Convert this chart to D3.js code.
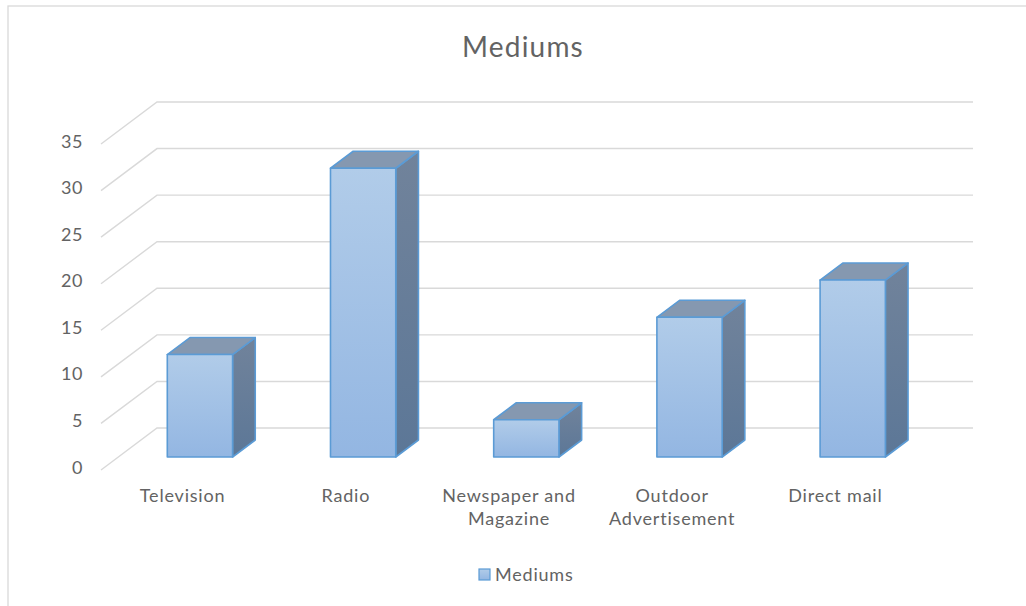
<!DOCTYPE html>
<html><head><meta charset="utf-8">
<script src="https://cdn.jsdelivr.net/npm/d3@7"></script>
<style>body{margin:0;background:#fff;} text{font-family:Lato,"Open Sans",sans-serif;}</style>
</head><body>
<svg id="c" width="1026" height="606"></svg>
<script>
const title = "Mediums";
const seriesName = "Mediums";
const categories = ["Television","Radio","Newspaper and Magazine","Outdoor Advertisement","Direct mail"];
const labelLines = [["Television"],["Radio"],["Newspaper and","Magazine"],["Outdoor","Advertisement"],["Direct mail"]];
const values = [11, 31, 4, 15, 19];
const yTicks = [0,5,10,15,20,25,30,35];

const txtColor = "#636363";
const svg = d3.select("#c");
// frame
svg.append("rect").attr("x",8).attr("y",6).attr("width",1040).attr("height",620)
  .attr("fill","#fff").attr("stroke","#d9d9d9").attr("stroke-width",1.3);

const front = {x0:101, x1:917};
const depth = {dx:56, dy:-42};
const y = d3.scaleLinear().domain([0,35]).range([470,144]);
const x = d3.scaleBand().domain(categories).range([0, front.x1-front.x0]).paddingInner(0.6).paddingOuter(0.3);
const xc = d3.scaleBand().domain(categories).range([front.x0, front.x1]);

// gridlines
const g = svg.append("g");
yTicks.forEach(t=>{
  const yf = y(t);
  g.append("path").attr("d", `M${front.x0},${yf} L${front.x0+depth.dx},${yf+depth.dy} L${front.x1+depth.dx},${yf+depth.dy}`)
   .attr("fill","none").attr("stroke","#d9d9d9").attr("stroke-width",1.4);
  svg.append("text").attr("x",83).attr("y",yf+3.5).attr("text-anchor","end")
   .attr("font-size",18).attr("letter-spacing",0.6).attr("fill",txtColor).text(t);
});

// gradients
const defs = svg.append("defs");
const gf = defs.append("linearGradient").attr("id","gf").attr("x1",0).attr("y1",0).attr("x2",0).attr("y2",1);
gf.append("stop").attr("offset","0%").attr("stop-color","#b1cce9");
gf.append("stop").attr("offset","100%").attr("stop-color","#93b6e2");
const gs = defs.append("linearGradient").attr("id","gs").attr("x1",0).attr("y1",0).attr("x2",0).attr("y2",1);
gs.append("stop").attr("offset","0%").attr("stop-color","#71839b");
gs.append("stop").attr("offset","100%").attr("stop-color","#5c7797");

const fF = 13/42, fB = 30/42;
const oF = {dx:depth.dx*fF, dy:depth.dy*fF};
const oB = {dx:depth.dx*fB, dy:depth.dy*fB};
const bars = svg.append("g");
categories.forEach((c,i)=>{
  const v = values[i];
  const xl = front.x0 + x(c) + oF.dx, xr = xl + x.bandwidth();
  const yb = y(0) + oF.dy, yt = y(v) + oF.dy;
  const ddx = oB.dx-oF.dx, ddy = oB.dy-oF.dy;
  const bg = bars.append("g").attr("stroke","#5b9bd5").attr("stroke-width",1.6).attr("stroke-linejoin","round");
  bg.append("path").attr("d",`M${xr},${yt} L${xr+ddx},${yt+ddy} L${xr+ddx},${yb+ddy} L${xr},${yb} Z`).attr("fill","url(#gs)");
  bg.append("path").attr("d",`M${xl},${yt} L${xl+ddx},${yt+ddy} L${xr+ddx},${yt+ddy} L${xr},${yt} Z`).attr("fill","#8598b0");
  bg.append("rect").attr("x",xl).attr("y",yt).attr("width",xr-xl).attr("height",yb-yt).attr("fill","url(#gf)");
});

// category labels
categories.forEach((c,i)=>{
  const cx = xc(c) + xc.bandwidth()/2;
  const t = svg.append("text").attr("x",cx).attr("y",502).attr("text-anchor","middle")
    .attr("font-size",18).attr("letter-spacing",0.8).attr("fill",txtColor);
  labelLines[i].forEach((ln,j)=>t.append("tspan").attr("x",cx).attr("dy", j?23:0).text(ln));
});

// title
svg.append("text").attr("x",523).attr("y",57).attr("text-anchor","middle").attr("font-size",28)
  .attr("letter-spacing",1.2).attr("fill",txtColor).text(title);

// legend
svg.append("rect").attr("x",479).attr("y",569).attr("width",11).attr("height",11)
  .attr("fill","url(#gf)").attr("stroke","#5b9bd5").attr("stroke-width",1.2);
svg.append("text").attr("x",495).attr("y",581).attr("font-size",18).attr("letter-spacing",0.8)
  .attr("fill",txtColor).text(seriesName);
</script>
</body></html>
